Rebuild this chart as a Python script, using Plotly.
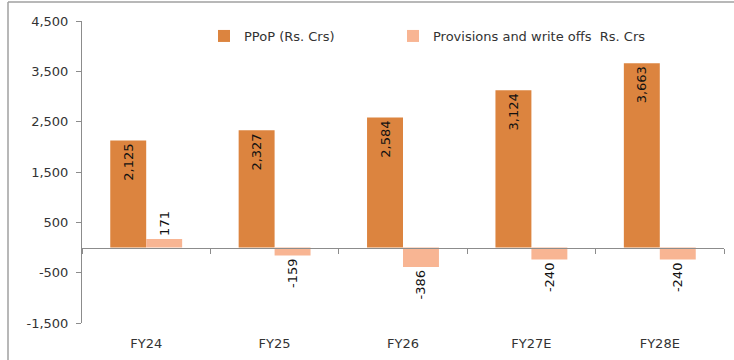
import plotly.graph_objects as go

# Chart data
years = ["FY24", "FY25", "FY26", "FY27E", "FY28E"]
ppop = [2125, 2327, 2584, 3124, 3663]
provisions = [171, -159, -386, -240, -240]
y_ticks = [-1500, -500, 500, 1500, 2500, 3500, 4500]

ppop_name = "PPoP (Rs. Crs)"
prov_name = "Provisions and write offs\u00a0 Rs. Crs"


def fmt(v):
    return f"{v:,}"


W, H = 734, 360
L, R, T, B = 82, 10, 21, 37
Y_MIN, Y_MAX = -1500, 4500
plot_w = W - L - R
plot_h = H - T - B

FONT = "DejaVu Sans"
FS = 13
AXIS_GRAY = "#8c8c8c"
TEXT = "#333333"

fig = go.Figure()

fig.add_bar(
    x=years, y=ppop, name=ppop_name, legend="legend",
    marker=dict(color="#DC843F", line=dict(width=0)),
    text=[fmt(v) for v in ppop], textposition="inside",
    insidetextanchor="end", textangle=-90,
    textfont=dict(family=FONT, size=FS, color="#111111"),
    constraintext="none", cliponaxis=False,
)
fig.add_bar(
    x=years, y=provisions, name=prov_name, legend="legend2",
    marker=dict(color="#F8B593", line=dict(width=0)),
    text=[fmt(v) for v in provisions], textposition="outside",
    textangle=-90,
    textfont=dict(family=FONT, size=FS, color="#111111"),
    constraintext="none", cliponaxis=False,
)
# carrier trace for the category labels along the bottom
fig.add_scatter(
    x=years, y=[None] * len(years), xaxis="x2", mode="none",
    showlegend=False, hoverinfo="skip",
)

zero_pos = (0 - Y_MIN) / (Y_MAX - Y_MIN)

# outer frame (left and top edges)
fx = (8 - L) / plot_w
fy = 1 + (T - 2) / plot_h
fig.add_shape(type="line", xref="paper", yref="paper",
              x0=fx, x1=fx, y0=-0.3, y1=fy,
              line=dict(color="#a0a0a0", width=1.5))
fig.add_shape(type="line", xref="paper", yref="paper",
              x0=fx, x1=1.2, y0=fy, y1=fy,
              line=dict(color="#a0a0a0", width=1.5))

legend_common = dict(
    orientation="h", xanchor="left",
    y=1 - (36 - T) / plot_h, yanchor="middle",
    font=dict(family=FONT, size=FS, color=TEXT),
    bgcolor="rgba(0,0,0,0)", itemclick=False,
)

fig.update_layout(
    width=W, height=H,
    margin=dict(l=L, r=R, t=T, b=B, pad=0),
    paper_bgcolor="white", plot_bgcolor="white",
    font=dict(family=FONT, size=FS, color=TEXT),
    barmode="group", bargap=0.44, bargroupgap=0,
    showlegend=True,
    legend=dict(x=(204 - L) / plot_w, **legend_common),
    legend2=dict(x=(393 - L) / plot_w, **legend_common),
    xaxis=dict(
        type="category", categoryorder="array", categoryarray=years,
        range=[-0.5, len(years) - 0.5],
        anchor="free", position=zero_pos,
        showline=True, linecolor=AXIS_GRAY, linewidth=1,
        ticks="outside", tickson="boundaries", ticklen=5,
        tickcolor=AXIS_GRAY, tickwidth=1,
        showticklabels=False, showgrid=False, zeroline=False,
    ),
    xaxis2=dict(
        type="category", categoryorder="array", categoryarray=years,
        range=[-0.5, len(years) - 0.5],
        overlaying="x", anchor="y", side="bottom",
        showline=False, ticks="", showgrid=False, zeroline=False,
        showticklabels=True, ticklabelstandoff=11,
        tickfont=dict(family=FONT, size=FS, color=TEXT),
    ),
    yaxis=dict(
        range=[Y_MIN, Y_MAX],
        tickvals=y_ticks, ticktext=[fmt(v) for v in y_ticks],
        showline=True, linecolor=AXIS_GRAY, linewidth=1,
        ticks="outside", ticklen=5, tickcolor=AXIS_GRAY, tickwidth=1,
        showgrid=False, zeroline=False, ticklabelstandoff=5,
        tickfont=dict(family=FONT, size=FS, color=TEXT),
    ),
)

fig.write_html("out.html")
